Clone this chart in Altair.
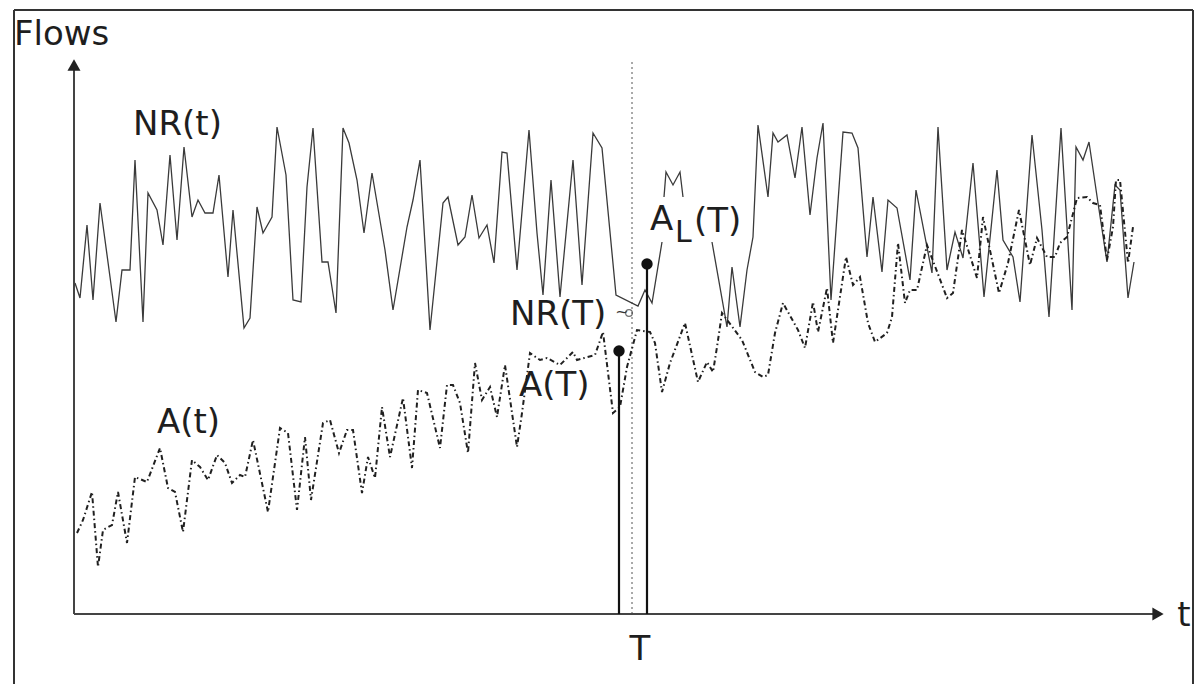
import altair as alt
import pandas as pd

# ---- NR(t): time t, flow value f, drawn in 3 visible pieces
nr1_t = [1, 6, 13, 19, 26, 36, 42, 48, 56, 61, 69, 74, 83, 89, 96, 103, 110, 118, 124, 131,
         139, 145, 154, 159, 170, 176, 183, 189, 198, 203, 212, 219, 227, 233, 239, 248, 254,
         262, 269, 275, 283, 290, 298, 311, 319, 333, 339, 346, 356, 369, 374, 384, 391, 398,
         405, 413, 420, 428, 433, 443, 455, 463, 469, 477, 486, 499, 508, 519, 528, 542, 564,
         571, 578, 588]
nr1_f = [331, 316, 389, 314, 411, 337, 292, 344, 344, 454, 292, 421, 404, 369, 459, 374, 467,
         397, 414, 401, 401, 439, 337, 404, 286, 296, 407, 381, 397, 487, 439, 314, 312, 427,
         486, 352, 352, 301, 486, 471, 434, 381, 441, 364, 304, 387, 414, 454, 284, 411, 417,
         369, 377, 419, 376, 389, 351, 462, 461, 344, 484, 381, 319, 434, 317, 454, 329, 481,
         466, 319, 308, 324, 311, 372]
nr2_t = [590, 592, 599, 606, 609]
nr2_f = [417, 442, 429, 442, 417]
nr3_t = [638, 653, 658, 666, 673, 679, 684, 694, 699, 704, 713, 721, 728, 736, 743, 749, 757,
         769, 778, 784, 793, 799, 808, 814, 823, 836, 842, 858, 864, 873, 881, 889, 899, 910,
         923, 929, 939, 946, 958, 968, 975, 987, 998, 1002, 1009, 1015, 1024, 1033, 1041, 1046,
         1054, 1060]
nr3_f = [372, 287, 347, 287, 344, 377, 489, 417, 481, 472, 479, 436, 487, 399, 456, 491, 314,
         482, 481, 466, 357, 417, 342, 414, 406, 334, 424, 341, 487, 344, 382, 356, 451, 317,
         444, 374, 357, 312, 479, 384, 297, 486, 304, 467, 454, 472, 411, 352, 429, 424, 316,
         352]

# ---- A(t)
a_t = [3, 9, 18, 24, 29, 38, 44, 53, 61, 73, 86, 94, 101, 109, 118, 126, 134, 143, 151, 158,
       166, 171, 179, 194, 206, 214, 223, 231, 237, 249, 256, 265, 273, 279, 288, 294, 301, 308,
       316, 329, 338, 344, 353, 366, 373, 379, 386, 394, 401, 408, 416, 423, 431, 443, 448, 456,
       466, 473, 486, 499, 503, 521, 529, 539, 546, 553, 563, 576, 581, 588, 596, 611, 624, 633,
       639, 643, 648, 668, 681, 689, 694, 701, 709, 724, 731, 739, 744, 753, 759, 772, 779, 786,
       794, 801, 813, 818, 824, 831, 836, 843, 853, 873, 879, 888, 903, 909, 925, 934, 945, 956,
       963, 973, 981, 986, 993, 1003, 1013, 1019, 1026, 1033, 1039, 1042, 1046, 1054, 1059]
a_f = [81, 94, 122, 47, 84, 89, 122, 71, 137, 132, 166, 126, 122, 82, 154, 147, 134, 159, 151,
       131, 139, 137, 174, 102, 186, 181, 104, 177, 114, 191, 194, 161, 184, 184, 121, 157, 136,
       207, 157, 216, 146, 224, 221, 166, 229, 229, 211, 161, 251, 214, 227, 197, 249, 167, 201,
       261, 254, 256, 249, 262, 254, 259, 282, 201, 207, 247, 284, 282, 271, 222, 251, 291, 232,
       252, 242, 267, 301, 274, 242, 237, 239, 281, 311, 284, 266, 312, 282, 326, 271, 357, 329,
       337, 291, 272, 281, 297, 371, 311, 324, 324, 369, 316, 321, 384, 336, 397, 321, 351, 404,
       349, 376, 357, 357, 371, 377, 416, 417, 411, 409, 354, 387, 434, 434, 351, 387]

# ---- values at time T
T_A, A_T = 545, 263      # A(T)
T_L, A_L = 573, 350      # A_L(T)
T_MARK = 558             # dotted line at T

X_DOM = [-66, 1120]
Y_DOM = [-70, 606]
xs = alt.Scale(domain=X_DOM, nice=False, zero=False)
ys = alt.Scale(domain=Y_DOM, nice=False, zero=False)

nr = pd.DataFrame({
    "t": nr1_t + nr2_t + nr3_t,
    "f": nr1_f + nr2_f + nr3_f,
    "seg": [1] * len(nr1_t) + [2] * len(nr2_t) + [3] * len(nr3_t),
})
nr["i"] = range(len(nr))
a = pd.DataFrame({"t": a_t, "f": a_f})
a["i"] = range(len(a))

X = lambda f="t": alt.X(f"{f}:Q", scale=xs, axis=None)
Y = lambda f="f": alt.Y(f"{f}:Q", scale=ys, axis=None)

nr_line = alt.Chart(nr).mark_line(color="#3a3a3a", strokeWidth=1.3).encode(
    x=X(), y=Y(), detail="seg:N", order="i:Q")
a_line = alt.Chart(a).mark_line(color="#202020", strokeWidth=2, strokeDash=[5, 3, 1.5, 3]).encode(
    x=X(), y=Y(), order="i:Q")

axes = pd.DataFrame({"t": [0, 0], "f": [0, 0], "t2": [0, 1085], "f2": [550, 0]})
axis_rules = alt.Chart(axes).mark_rule(color="#444", strokeWidth=2).encode(
    x=X(), y=Y(), x2="t2:Q", y2="f2:Q")
heads = pd.DataFrame({"t": [0, 1084], "f": [549, 0], "shape": ["triangle-up", "triangle-right"]})
arrow_heads = alt.Chart(heads).mark_point(filled=True, color="#222", opacity=1, size=170).encode(
    x=X(), y=Y(), shape=alt.Shape("shape:N", scale=None))

bars = pd.DataFrame({"t": [T_A, T_L], "f": [0, 0], "v": [A_T, A_L]})
bar_rules = alt.Chart(bars).mark_rule(color="#111", strokeWidth=2.2).encode(
    x=X(), y=Y(), y2="v:Q")
bar_dots = alt.Chart(bars).mark_circle(color="#111", opacity=1, size=130).encode(
    x=X(), y=Y("v"))

tline = pd.DataFrame({"t": [T_MARK], "f": [0], "f2": [552]})
t_rule = alt.Chart(tline).mark_rule(color="#555", strokeWidth=1, strokeDash=[2, 3]).encode(
    x=X(), y=Y(), y2="f2:Q")

labels_left = pd.DataFrame({
    "text": ["Flows", "NR(t)", "A(t)", "NR(T)", "A(T)", "A", "L", "(T)"],
    "t": [-60, 59, 83, 436, 445, 576, 601, 620],
    "f": [569, 479, 181, 289, 218, 384, 372, 382],
    "size": [34, 34, 34, 34, 34, 34, 30, 34],
})
txt_left = alt.Chart(labels_left).mark_text(
    font="DejaVu Sans", align="left", baseline="alphabetic", color="#1e1e1e").encode(
    x=X(), y=Y(), text="text:N", size=alt.Size("size:Q", scale=None))

labels_center = pd.DataFrame({"text": ["T", "t"], "t": [566, 1110], "f": [-46, -12]})
txt_center = alt.Chart(labels_center).mark_text(
    font="DejaVu Sans", align="center", baseline="alphabetic", color="#1e1e1e", fontSize=34).encode(
    x=X(), y=Y(), text="text:N")

# the little squiggle marker next to NR(T)
sq = pd.DataFrame({"text": ["~"], "t": [548], "f": [302]})
squiggle = alt.Chart(sq).mark_text(font="DejaVu Sans", fontSize=16, color="#333",
                                   baseline="middle").encode(x=X(), y=Y(), text="text:N")
circ = pd.DataFrame({"t": [555], "f": [301]})
small_circle = alt.Chart(circ).mark_point(shape="circle", color="#333", size=45,
                                          strokeWidth=1.2).encode(x=X(), y=Y())

# scanned page frame (left, top, right)
frame_l = alt.Chart().mark_rule(color="#333", strokeWidth=2).encode(
    x=alt.value(6), y=alt.value(2), y2=alt.value(700))
frame_t = alt.Chart().mark_rule(color="#333", strokeWidth=2).encode(
    x=alt.value(6), x2=alt.value(1185), y=alt.value(2))
frame_r = alt.Chart().mark_rule(color="#333", strokeWidth=2).encode(
    x=alt.value(1185), y=alt.value(2), y2=alt.value(700))

chart = alt.layer(
    frame_l, frame_t, frame_r,
    t_rule, nr_line, a_line, axis_rules, arrow_heads, bar_rules, bar_dots,
    txt_left, txt_center, squiggle, small_circle,
).properties(
    width=1186, height=676, autosize="none", padding=0, background="white"
).configure_view(stroke=None)

chart.save("out.html", embed_options={"renderer": "svg", "actions": False})
